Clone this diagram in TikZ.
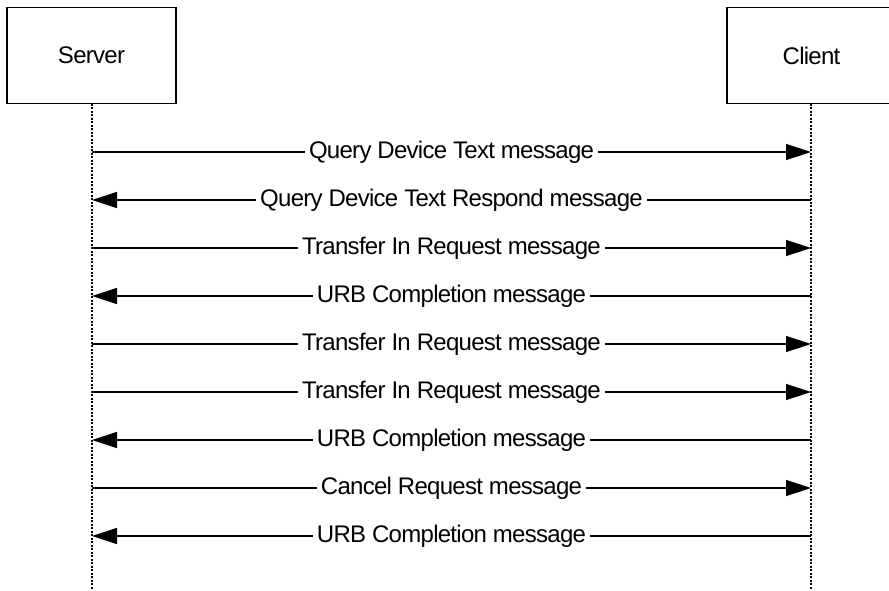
\documentclass[tikz,border=0pt]{standalone}
\usepackage{fontspec}
\setmainfont[LetterSpace=-3]{Liberation Sans}
\usetikzlibrary{arrows.meta, shapes}

\begin{document}
\begin{tikzpicture}[x=1pt, y=-1pt, line width=1.4pt]
    \tikzstyle{every node} = [font=\fontsize{24}{28}\selectfont]
    \tikzstyle{actor} = [draw, line width=1.7pt, minimum width=169pt, minimum height=96pt, inner sep=0pt]
    \tikzstyle{life} = [line width=1.8pt, dash pattern=on 2pt off 1.5pt]
    \tikzstyle{msg} = [-{Triangle[length=25pt, width=16pt]}]
    \tikzstyle{lbl} = [pos=.5, fill=white, inner sep=4pt]
    \useasboundingbox (0, 0) rectangle (889, 590);
    \clip (0, 0) rectangle (889, 590);
    \node (srv) [actor] at (91.5, 55.5) {Server};
    \node (cli) [actor] at (811.5, 55.5) {Client};
    \coordinate (srvend) at (92, 590);
    \coordinate (cliend) at (811, 590);
      \draw [life] (92, 103.5) -- (srvend);
      \draw [life] (811, 103.5) -- (cliend);
    % message end points on the lifelines
    \foreach \i in {1,...,9} {
      \coordinate (s\i) at (92, 104 + 48*\i);
      \coordinate (c\i) at (811, 104 + 48*\i);
    }
      \draw [msg] (s1) -- (c1) node[lbl] {Query Device Text message};
      \draw [msg] (c2) -- (s2) node[lbl] {Query Device Text Respond message};
      \draw [msg] (s3) -- (c3) node[lbl] {Transfer In Request message};
      \draw [msg] (c4) -- (s4) node[lbl] {URB Completion message};
      \draw [msg] (s5) -- (c5) node[lbl] {Transfer In Request message};
      \draw [msg] (s6) -- (c6) node[lbl] {Transfer In Request message};
      \draw [msg] (c7) -- (s7) node[lbl] {URB Completion message};
      \draw [msg] (s8) -- (c8) node[lbl] {Cancel Request message};
      \draw [msg] (c9) -- (s9) node[lbl] {URB Completion message};
  \end{tikzpicture}
\end{document}
